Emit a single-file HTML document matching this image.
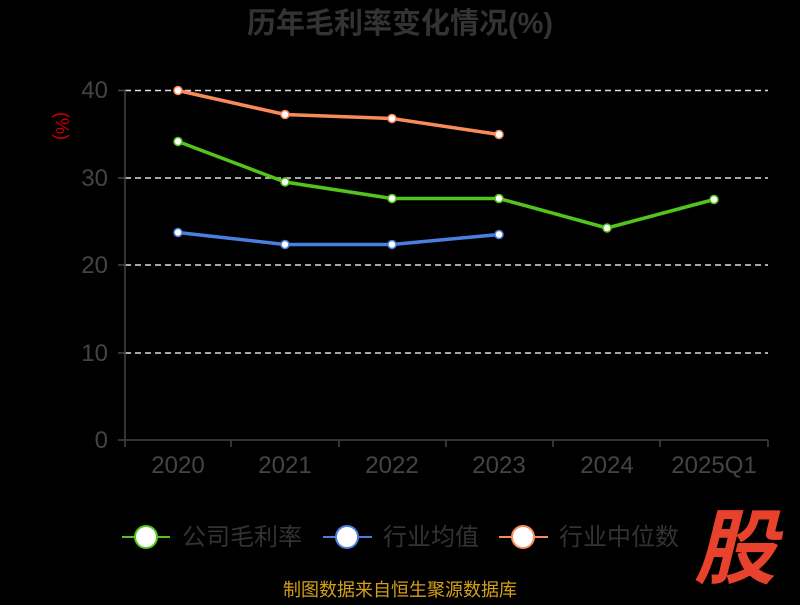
<!DOCTYPE html><html><head><meta charset="utf-8"><style>body{margin:0;background:#000;}svg text{font-family:"Liberation Sans","Noto Sans CJK SC",sans-serif;}</style></head><body>
<svg width="800" height="600" xmlns="http://www.w3.org/2000/svg">
<rect width="800" height="600" fill="#000"/>
<text x="400" y="33" text-anchor="middle" font-size="29" font-weight="bold" fill="#333">历年毛利率变化情况(%)</text>
<text x="62" y="126" fill="#c00" font-size="18" transform="rotate(90 62 126)" text-anchor="middle" dy="6">(%)</text>
<g stroke="#ddd" stroke-width="1.5" stroke-dasharray="6,4">
<line x1="125" y1="90.5" x2="768" y2="90.5"/><line x1="125" y1="178" x2="768" y2="178"/><line x1="125" y1="265" x2="768" y2="265"/><line x1="125" y1="353" x2="768" y2="353"/></g>
<g stroke="#444" stroke-width="1.5"><line x1="125" y1="90" x2="125" y2="440"/><line x1="125" y1="440" x2="768" y2="440"/>
<line x1="118" y1="90.5" x2="125" y2="90.5"/><line x1="118" y1="178" x2="125" y2="178"/><line x1="118" y1="265" x2="125" y2="265"/><line x1="118" y1="353" x2="125" y2="353"/><line x1="118" y1="440" x2="125" y2="440"/>
<line x1="125" y1="440" x2="125" y2="447"/><line x1="231" y1="440" x2="231" y2="447"/><line x1="339" y1="440" x2="339" y2="447"/><line x1="446" y1="440" x2="446" y2="447"/><line x1="553" y1="440" x2="553" y2="447"/><line x1="660" y1="440" x2="660" y2="447"/><line x1="768" y1="440" x2="768" y2="447"/></g>
<g fill="#444" font-size="24" text-anchor="end"><text x="108" y="98">40</text><text x="108" y="186">30</text><text x="108" y="273">20</text><text x="108" y="361">10</text><text x="108" y="448">0</text></g>
<g fill="#444" font-size="24" text-anchor="middle"><text x="178" y="473">2020</text><text x="285" y="473">2021</text><text x="392" y="473">2022</text><text x="499" y="473">2023</text><text x="607" y="473">2024</text><text x="714" y="473">2025Q1</text></g>
<polyline points="178,90.5 285,114.5 392,118.5 499,134.5" fill="none" stroke="#f98b5a" stroke-width="3.5"/>
<polyline points="178,232.5 285,244.5 392,244.5 499,234.5" fill="none" stroke="#4a7fe0" stroke-width="3.5"/>
<polyline points="178,141.5 285,182 392,198.5 499,198.5 607,228 714,199.5" fill="none" stroke="#52c41a" stroke-width="3.5"/>
<g fill="#fff" stroke-width="1.5">
<g stroke="#f98b5a"><circle cx="178" cy="90.5" r="4"/><circle cx="285" cy="114.5" r="4"/><circle cx="392" cy="118.5" r="4"/><circle cx="499" cy="134.5" r="4"/></g>
<g stroke="#4a7fe0"><circle cx="178" cy="232.5" r="4"/><circle cx="285" cy="244.5" r="4"/><circle cx="392" cy="244.5" r="4"/><circle cx="499" cy="234.5" r="4"/></g>
<g stroke="#52c41a"><circle cx="178" cy="141.5" r="4"/><circle cx="285" cy="182" r="4"/><circle cx="392" cy="198.5" r="4"/><circle cx="499" cy="198.5" r="4"/><circle cx="607" cy="228" r="4"/><circle cx="714" cy="199.5" r="4"/></g>
</g>
<g font-size="24" fill="#333">
<line x1="122" y1="537" x2="170" y2="537" stroke="#52c41a" stroke-width="2"/><ellipse cx="146" cy="537" rx="11" ry="11" fill="#fff" stroke="#52c41a" stroke-width="2"/><text x="182" y="545">公司毛利率</text>
<line x1="323" y1="537" x2="372" y2="537" stroke="#4a7fe0" stroke-width="2"/><ellipse cx="347" cy="537" rx="11" ry="11" fill="#fff" stroke="#4a7fe0" stroke-width="2"/><text x="383" y="545">行业均值</text>
<line x1="499" y1="537" x2="548" y2="537" stroke="#f98b5a" stroke-width="2"/><ellipse cx="523" cy="537" rx="11" ry="11" fill="#fff" stroke="#f98b5a" stroke-width="2"/><text x="559" y="545">行业中位数</text>
</g>
<text x="735" y="577" text-anchor="middle" font-size="82" font-weight="bold" font-style="italic" fill="#e8412c">股</text>
<text x="400" y="596" text-anchor="middle" font-size="18" fill="#d4a017">制图数据来自恒生聚源数据库</text>
</svg></body></html>
